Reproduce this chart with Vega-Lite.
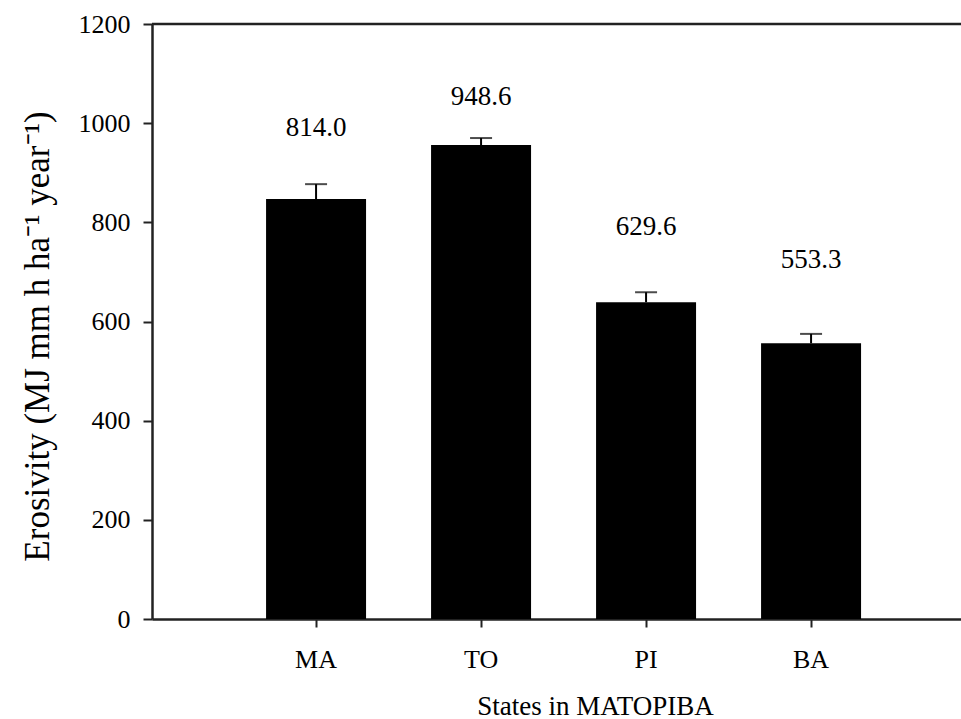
{
  "$schema": "https://vega.github.io/schema/vega-lite/v6.json",
  "autosize": {"type": "none"},
  "width": 809,
  "height": 595,
  "padding": {"left": 152, "top": 24, "right": 0, "bottom": 100},
  "background": "white",
  "config": {
    "view": {"stroke": null},
    "font": "Liberation Serif"
  },
  "datasets": {
    "bars": [
      {"state": "MA", "erosivity": 847, "upper": 877, "label": "814.0", "label_at": 990},
      {"state": "TO", "erosivity": 956, "upper": 970, "label": "948.6", "label_at": 1053},
      {"state": "PI", "erosivity": 639, "upper": 659, "label": "629.6", "label_at": 791},
      {"state": "BA", "erosivity": 556, "upper": 575, "label": "553.3", "label_at": 725}
    ],
    "frame": [{"top": 1200}]
  },
  "layer": [
    {
      "data": {"name": "bars"},
      "mark": {"type": "bar", "color": "black"},
      "encoding": {
        "x": {
          "field": "state",
          "type": "nominal",
          "sort": ["MA", "TO", "PI", "BA"],
          "scale": {"paddingInner": 0.394, "paddingOuter": 0.6485, "align": 0.533},
          "axis": {
            "title": "States in MATOPIBA",
            "labelAngle": 0,
            "labelFont": "Liberation Serif",
            "labelFontSize": 26,
            "labelColor": "black",
            "labelPadding": 19,
            "tickSize": 8,
            "tickWidth": 2,
            "tickColor": "#222",
            "domainColor": "#222",
            "domainWidth": 2.5,
            "titleFont": "Liberation Serif",
            "titleFontSize": 27,
            "titleFontWeight": "normal",
            "titleColor": "black",
            "titleX": 443,
            "titleY": 95,
            "titleAlign": "center",
            "titleBaseline": "alphabetic"
          }
        },
        "y": {
          "field": "erosivity",
          "type": "quantitative",
          "scale": {"domain": [0, 1200], "nice": false},
          "axis": {
            "title": "Erosivity (MJ mm h ha⁻¹ year⁻¹)",
            "values": [0, 200, 400, 600, 800, 1000, 1200],
            "format": "d",
            "grid": false,
            "labelFont": "Liberation Serif",
            "labelFontSize": 26,
            "labelColor": "black",
            "labelPadding": 13,
            "tickSize": 9,
            "tickWidth": 2,
            "tickColor": "#222",
            "domainColor": "#222",
            "domainWidth": 2.5,
            "titleFont": "Liberation Serif",
            "titleFontSize": 35,
            "titleFontWeight": "normal",
            "titleColor": "black",
            "titleX": -115,
            "titleY": 312,
            "titleAngle": -90,
            "titleAlign": "center",
            "titleBaseline": "middle"
          }
        }
      }
    },
    {
      "data": {"name": "bars"},
      "mark": {"type": "rule", "color": "black", "strokeWidth": 2},
      "encoding": {
        "x": {"field": "state", "type": "nominal", "sort": ["MA", "TO", "PI", "BA"]},
        "y": {"field": "erosivity", "type": "quantitative"},
        "y2": {"field": "upper"}
      }
    },
    {
      "data": {"name": "bars"},
      "mark": {"type": "tick", "color": "black", "size": 22, "thickness": 2, "orient": "horizontal"},
      "encoding": {
        "x": {"field": "state", "type": "nominal", "sort": ["MA", "TO", "PI", "BA"]},
        "y": {"field": "upper", "type": "quantitative"}
      }
    },
    {
      "data": {"name": "bars"},
      "mark": {"type": "text", "font": "Liberation Serif", "fontSize": 27, "color": "black", "baseline": "middle", "align": "center"},
      "encoding": {
        "x": {"field": "state", "type": "nominal", "sort": ["MA", "TO", "PI", "BA"]},
        "y": {"field": "label_at", "type": "quantitative"},
        "text": {"field": "label"}
      }
    },
    {
      "data": {"name": "frame"},
      "mark": {"type": "rule", "color": "#222", "strokeWidth": 2.5},
      "encoding": {
        "y": {"field": "top", "type": "quantitative"}
      }
    }
  ]
}
